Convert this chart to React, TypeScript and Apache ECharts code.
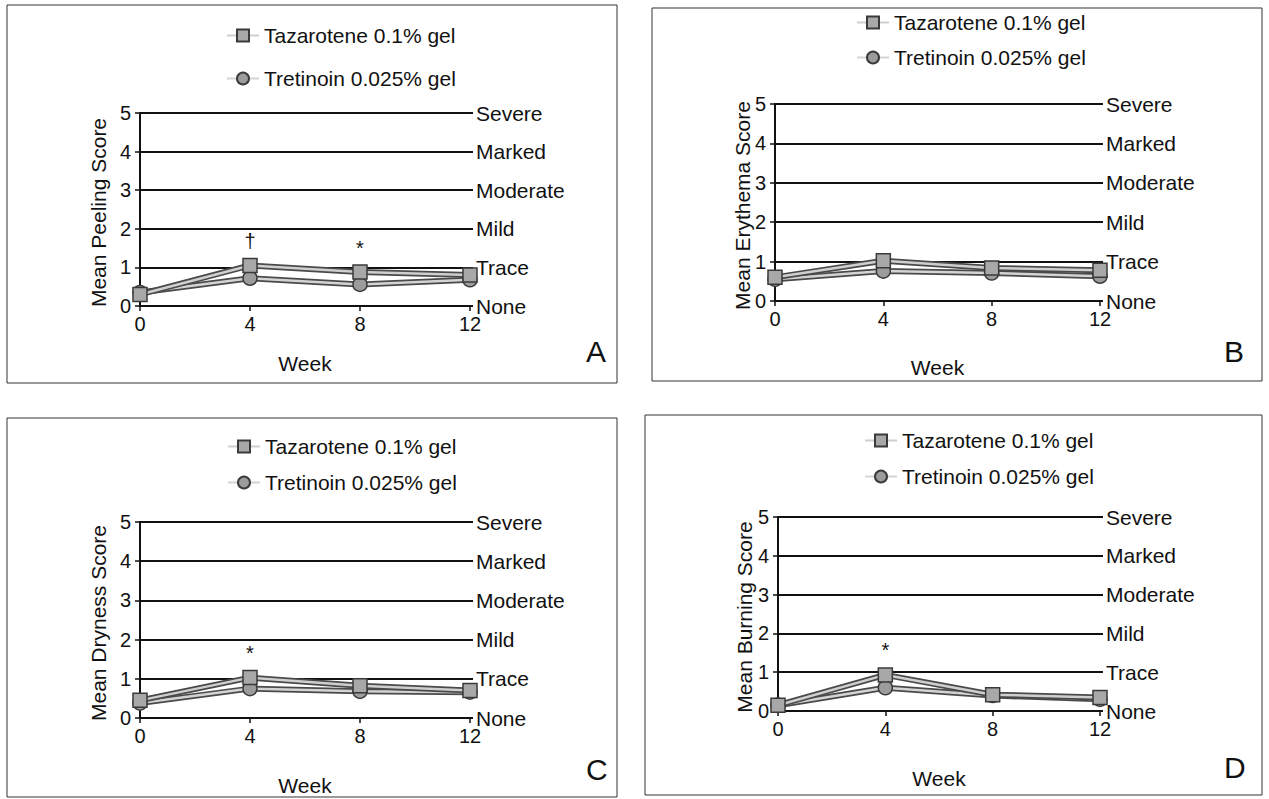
import React, { useEffect, useRef } from "react";
import * as echarts from "echarts";

const weeks = [0, 4, 8, 12];
const severityLabels = ["None", "Trace", "Mild", "Moderate", "Marked", "Severe"];
const seriesNames = ["Tazarotene 0.1% gel", "Tretinoin 0.025% gel"];

const peelingTaz = [0.3, 1.05, 0.88, 0.8];
const peelingTret = [0.35, 0.72, 0.56, 0.68];
const erythemaTaz = [0.6, 1.02, 0.84, 0.78];
const erythemaTret = [0.55, 0.76, 0.71, 0.63];
const drynessTaz = [0.45, 1.03, 0.82, 0.7];
const drynessTret = [0.38, 0.75, 0.68, 0.66];
const burningTaz = [0.15, 0.93, 0.42, 0.35];
const burningTret = [0.15, 0.6, 0.4, 0.3];

const panelTitles = ["Mean Peeling Score", "Mean Erythema Score", "Mean Dryness Score", "Mean Burning Score"];
const panelLetters = ["A", "B", "C", "D"];
const panelTaz = [peelingTaz, erythemaTaz, drynessTaz, burningTaz];
const panelTret = [peelingTret, erythemaTret, drynessTret, burningTret];
// annotations: [week, symbol] placed above Tazarotene point
const panelMarks: [number, string][][] = [
  [[4, "†"], [8, "*"]],
  [],
  [[4, "*"]],
  [[4, "*"]],
];

// layout (pixels)
const layout = [
  { grid: { left: 140, top: 113, width: 330, height: 193 }, box: [7, 5, 610, 378], legend: [221, 20], legendGap: 22, letter: [586, 336], titleX: 98, weekGap: 47 },
  { grid: { left: 775, top: 104, width: 325, height: 197 }, box: [652, 8, 610, 373], legend: [851, 7], legendGap: 14, letter: [1224, 336], titleX: 742, weekGap: 56 },
  { grid: { left: 140, top: 522, width: 330, height: 196 }, box: [7, 418, 610, 379], legend: [222, 431], legendGap: 15, letter: [586, 754], titleX: 98, weekGap: 57 },
  { grid: { left: 778, top: 517, width: 322, height: 194 }, box: [645, 415, 617, 380], legend: [859, 425], legendGap: 15, letter: [1224, 752], titleX: 744, weekGap: 57 },
];

const FONT = "'Liberation Sans', Arial, Helvetica, sans-serif";
const INK = "#111";

export default function App() {
  const ref = useRef<HTMLDivElement>(null);
  useEffect(() => {
    if (!ref.current) return;
    const chart = echarts.init(ref.current, undefined, { renderer: "svg" });
    const grid: any[] = [];
    const xAxis: any[] = [];
    const yAxis: any[] = [];
    const series: any[] = [];
    const legend: any[] = [];
    const graphic: any[] = [];

    layout.forEach((L, i) => {
      grid.push({ ...L.grid, containLabel: false });
      xAxis.push({
        type: "value",
        gridIndex: i,
        min: 0,
        max: 12,
        interval: 4,
        name: "Week",
        nameLocation: "middle",
        nameGap: L.weekGap,
        nameTextStyle: { fontSize: 21, color: INK, fontFamily: FONT },
        axisLine: { show: true, lineStyle: { color: INK, width: 2 } },
        axisTick: { show: true, length: 5, lineStyle: { color: INK, width: 1.5 } },
        axisLabel: { fontSize: 20, color: INK, margin: 8, fontFamily: FONT },
        splitLine: { show: false },
      });
      yAxis.push({
        type: "value",
        gridIndex: i,
        min: 0,
        max: 5,
        interval: 1,
        axisLine: { show: true, lineStyle: { color: INK, width: 2 } },
        axisTick: { show: true, length: 5, lineStyle: { color: INK, width: 1.5 } },
        axisLabel: { fontSize: 20, color: INK, margin: 9, fontFamily: FONT },
        splitLine: { show: true, lineStyle: { color: INK, width: 2 } },
      });
      yAxis.push({
        type: "value",
        gridIndex: i,
        position: "right",
        min: 0,
        max: 5,
        interval: 1,
        axisLine: { show: false },
        axisTick: { show: true, length: 3, lineStyle: { color: INK, width: 2 } },
        splitLine: { show: false },
        axisLabel: {
          fontSize: 21,
          color: INK,
          margin: 6,
          fontFamily: FONT,
          formatter: (v: number) => severityLabels[Math.round(v)] ?? "",
        },
      });
      const taz = panelTaz[i];
      const tret = panelTret[i];
      const tazData = weeks.map((w, k) => [w, taz[k]]);
      const tretData = weeks.map((w, k) => [w, tret[k]]);
      // dark outlines of the double-stroke lines
      [tretData, tazData].forEach((d, j) => {
        series.push({
          type: "line",
          xAxisIndex: i,
          yAxisIndex: i * 2,
          data: d,
          symbol: "none",
          silent: true,
          lineStyle: { color: "#4a4a4a", width: 6 },
          z: 2 + j * 2,
        });
      });
      series.push({
        name: seriesNames[1],
        type: "line",
        xAxisIndex: i,
        yAxisIndex: i * 2,
        data: tretData,
        symbol: "circle",
        symbolSize: 14,
        itemStyle: { color: "#9c9c9c", borderColor: "#3a3a3a", borderWidth: 1.5 },
        lineStyle: { color: "#d4d4d4", width: 2.5 },
        z: 3,
      });
      series.push({
        name: seriesNames[0],
        type: "line",
        xAxisIndex: i,
        yAxisIndex: i * 2,
        data: tazData,
        symbol: "rect",
        symbolSize: 14,
        itemStyle: { color: "#a8a8a8", borderColor: "#3a3a3a", borderWidth: 1.5 },
        lineStyle: { color: "#cfcfcf", width: 2.5 },
        z: 5,
        markPoint: {
          symbol: "circle",
          symbolSize: 1,
          itemStyle: { color: "rgba(0,0,0,0)" },
          label: {
            show: true,
            position: "top",
            distance: 14,
            color: INK,
            fontSize: 20,
            fontFamily: FONT,
            formatter: (p: any) => p.name,
          },
          data: panelMarks[i].map(([w, s]) => ({
            name: s,
            coord: [w, taz[weeks.indexOf(w)]],
          })),
        },
      });
      legend.push({
        data: seriesNames,
        orient: "vertical",
        left: L.legend[0],
        top: L.legend[1],
        itemWidth: 32,
        itemHeight: 15,
        itemGap: L.legendGap,
        textStyle: { fontSize: 21, color: INK, fontFamily: FONT },
        selectedMode: false,
      });
      graphic.push({
        type: "rect",
        shape: { x: L.box[0], y: L.box[1], width: L.box[2], height: L.box[3] },
        style: { fill: "none", stroke: "#333", lineWidth: 1 },
        silent: true,
      });
      graphic.push({
        type: "text",
        x: L.letter[0],
        y: L.letter[1],
        style: { text: panelLetters[i], fontSize: 30, fill: INK, fontFamily: FONT },
        silent: true,
      });
      graphic.push({
        type: "text",
        x: L.titleX,
        y: L.grid.top + L.grid.height / 2 + 3,
        rotation: Math.PI / 2,
        style: {
          text: panelTitles[i],
          fontSize: 21,
          fill: INK,
          fontFamily: FONT,
          align: "center",
          verticalAlign: "middle",
        },
        silent: true,
      });
    });

    chart.setOption({
      animation: false,
      backgroundColor: "#fff",
      textStyle: { fontFamily: FONT },
      grid,
      xAxis,
      yAxis,
      series,
      legend,
      graphic,
    });
    return () => chart.dispose();
  }, []);
  return (
    <div
      ref={ref}
      style={{ position: "fixed", left: 0, top: 0, width: 1269, height: 799, background: "#fff" }}
    />
  );
}
